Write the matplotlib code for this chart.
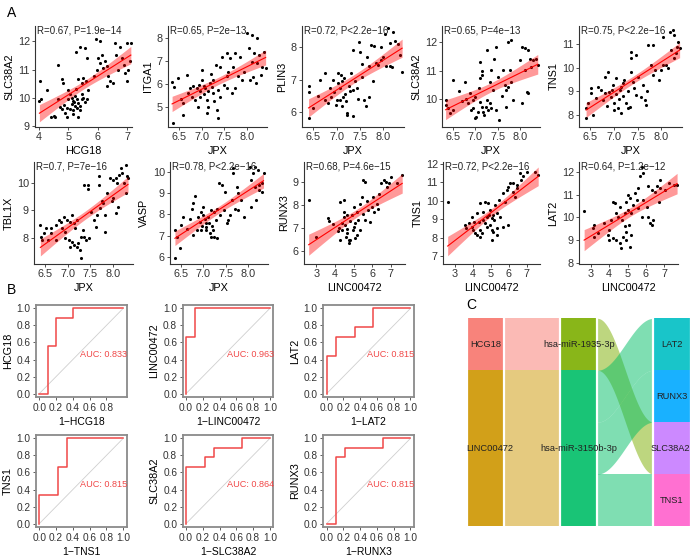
import numpy as np
import matplotlib
matplotlib.use("Agg")
import matplotlib.pyplot as plt
from matplotlib.patches import Rectangle
from matplotlib.ticker import FormatStrFormatter

plt.rcParams['font.family'] = ['Liberation Sans', 'DejaVu Sans']

W, H = 691, 558

# ---------------- Panel A data (x, y) ----------------
hcg18_slc38a2 = [(4.03, 10.61), (4.06, 9.94), (4.01, 9.87), (4.26, 10.29), (4.40, 9.30), (4.51, 9.35),
                 (4.55, 9.33), (4.63, 11.16), (4.77, 10.65), (4.83, 10.53), (4.66, 9.94), (4.72, 9.68),
                 (4.77, 9.59), (4.89, 9.47), (4.94, 9.30), (5.00, 10.29), (5.06, 10.12), (5.11, 10.00),
                 (5.00, 9.94), (5.17, 9.88), (5.23, 9.70), (5.11, 9.76), (5.28, 9.65), (5.34, 9.82),
                 (5.40, 9.70), (5.45, 9.94), (5.51, 10.00), (5.26, 11.61), (5.40, 11.82), (5.57, 11.76),
                 (5.65, 11.41), (5.26, 10.30), (5.34, 10.65), (5.45, 10.53), (5.51, 10.70), (5.60, 10.59),
                 (5.65, 9.94), (5.68, 10.29), (5.34, 9.30), (5.17, 9.41), (5.95, 12.08), (6.08, 12.00),
                 (6.02, 11.41), (6.14, 11.53), (5.86, 10.76), (5.97, 11.00), (6.08, 11.24), (6.19, 11.06),
                 (6.25, 11.30), (6.30, 11.12), (6.30, 10.41), (6.42, 10.59), (6.53, 10.53), (6.36, 10.76),
                 (6.59, 11.94), (6.76, 11.82), (6.64, 11.53), (6.82, 11.41), (6.70, 11.00), (6.88, 11.18),
                 (6.93, 10.88), (6.99, 10.59), (7.05, 11.00), (7.01, 11.96), (7.13, 11.96), (7.10, 11.30),
                 (5.05, 9.60), (5.15, 9.55), (5.20, 9.85), (5.30, 9.95), (5.38, 9.55), (5.22, 10.05),
                 (4.85, 9.75), (4.95, 9.62), (5.48, 10.15), (5.58, 9.85)]

jpx_itga1 = [(6.36, 4.34), (6.35, 6.10), (6.39, 5.86), (6.49, 6.25), (6.58, 4.67), (6.67, 6.39), (6.71, 5.60),
             (6.78, 5.46), (6.74, 5.82), (6.85, 5.32), (6.89, 5.82), (6.97, 5.68), (6.93, 5.03), (7.00, 6.60),
             (7.00, 6.18), (7.06, 5.92), (7.08, 5.82), (7.11, 5.32), (7.15, 5.03), (7.19, 6.03), (7.22, 5.89),
             (7.26, 6.18), (7.28, 5.25), (7.33, 4.89), (7.37, 4.53), (7.32, 6.82), (7.41, 6.75), (7.45, 7.18),
             (7.56, 7.33), (7.63, 7.11), (7.70, 6.75), (7.59, 6.54), (7.56, 5.82), (7.67, 5.60), (7.41, 5.46),
             (7.74, 5.82), (7.74, 7.33), (7.85, 7.18), (7.93, 6.54), (7.89, 6.18), (8.00, 8.19), (8.11, 8.11),
             (8.22, 7.97), (8.04, 7.54), (8.15, 7.33), (8.26, 7.25), (8.37, 7.40), (8.11, 6.97), (8.22, 6.90),
             (8.33, 6.75), (8.41, 6.68), (8.06, 6.18), (8.19, 6.03), (8.14, 6.30), (7.11, 4.75), (6.97, 5.46),
             (7.05, 5.55), (7.15, 5.70), (6.95, 5.95), (7.25, 5.60), (6.80, 5.90), (7.35, 5.75), (7.50, 5.95),
             (7.55, 6.35), (7.20, 6.45), (6.60, 5.20), (6.55, 5.35), (7.80, 6.35), (8.30, 6.40)]

jpx_plin3 = [(6.40, 6.62), (6.41, 6.80), (6.42, 5.80), (6.50, 6.10), (6.64, 7.00), (6.75, 7.20), (6.75, 6.37),
             (6.82, 6.28), (6.86, 6.75), (6.93, 7.00), (7.04, 7.20), (7.08, 6.75), (7.15, 7.06), (7.19, 6.32),
             (7.23, 5.90), (7.00, 6.37), (7.12, 6.94), (7.08, 6.37), (7.14, 6.47), (7.12, 6.16), (7.23, 5.95),
             (7.34, 5.85), (7.26, 6.79), (7.29, 6.63), (7.36, 6.68), (7.44, 6.73), (7.40, 6.95), (7.36, 7.93),
             (7.50, 7.87), (7.47, 8.18), (7.54, 7.09), (7.58, 6.37), (7.62, 6.16), (7.69, 6.45), (7.77, 6.94),
             (7.69, 7.41), (7.73, 8.09), (7.80, 8.04), (7.84, 7.51), (7.88, 7.45), (7.95, 7.62), (8.06, 7.41),
             (8.14, 7.41), (8.03, 8.41), (8.10, 8.62), (8.21, 8.47), (8.25, 8.20), (8.32, 8.10), (8.36, 7.77),
             (8.40, 7.25), (8.14, 8.15), (8.18, 7.40), (6.95, 6.60), (7.02, 6.90), (7.10, 7.15), (6.88, 6.45),
             (6.98, 6.20), (7.18, 6.55), (6.60, 6.50), (7.30, 7.20), (7.45, 6.40), (7.55, 7.50), (7.65, 7.70),
             (7.95, 8.00), (8.00, 7.70)]

jpx_slc38a2 = [(6.36, 9.98), (6.34, 9.80), (6.40, 9.69), (6.43, 9.51), (6.51, 9.63), (6.51, 10.67), (6.64, 10.30),
               (6.77, 10.61), (6.80, 10.03), (6.84, 9.86), (6.88, 10.21), (6.94, 9.98), (6.99, 10.09), (6.91, 9.63),
               (6.99, 9.34), (7.02, 9.40), (7.09, 10.38), (7.10, 10.73), (7.10, 11.31), (7.14, 11.00), (7.16, 10.85),
               (7.14, 9.75), (7.17, 9.57), (7.23, 9.75), (7.25, 9.98), (7.29, 9.63), (7.32, 9.86), (7.25, 11.71),
               (7.32, 10.61), (7.36, 11.02), (7.41, 11.42), (7.46, 11.83), (7.40, 10.32), (7.51, 10.79), (7.53, 9.28),
               (7.47, 9.63), (7.62, 11.02), (7.66, 10.50), (7.69, 10.32), (7.73, 10.42), (7.73, 12.00), (7.80, 12.06),
               (7.77, 11.02), (7.84, 9.98), (7.69, 9.75), (7.99, 11.36), (8.03, 11.83), (8.10, 11.77), (8.17, 11.71),
               (8.21, 11.42), (8.10, 11.02), (8.14, 10.27), (8.17, 10.21), (8.03, 9.86), (8.24, 11.13), (8.36, 11.42),
               (8.39, 11.19), (8.28, 11.36), (7.05, 9.55), (7.20, 9.45), (7.10, 9.90), (6.95, 9.70), (7.35, 9.70),
               (7.60, 10.10), (7.80, 10.60), (6.70, 9.95)]

jpx_tns1 = [(6.41, 8.28), (6.41, 7.86), (6.44, 8.50), (6.55, 8.00), (6.51, 9.13), (6.51, 8.92), (6.62, 8.71),
            (6.67, 9.20), (6.73, 9.06), (6.80, 8.92), (6.76, 8.64), (6.80, 9.63), (6.87, 9.84), (6.90, 8.99),
            (6.94, 8.78), (6.97, 9.27), (7.01, 8.50), (7.08, 8.28), (7.12, 9.06), (7.15, 9.20), (7.19, 9.34),
            (7.04, 9.56), (7.22, 9.49), (7.26, 8.50), (7.29, 8.28), (7.33, 8.36), (7.36, 9.84), (7.40, 9.42),
            (7.43, 9.13), (7.47, 8.85), (7.36, 10.41), (7.47, 10.55), (7.36, 10.69), (7.61, 9.27), (7.58, 8.78),
            (7.65, 8.64), (7.68, 8.43), (7.72, 10.97), (7.82, 10.97), (7.79, 10.12), (7.86, 9.91), (7.82, 9.70),
            (7.96, 9.49), (7.99, 9.91), (8.04, 10.12), (8.11, 10.12), (8.04, 11.33), (8.18, 11.54), (8.25, 11.61),
            (8.28, 11.40), (8.35, 11.11), (8.21, 10.76), (8.28, 10.41), (8.39, 10.83), (8.34, 10.90), (8.14, 9.98),
            (8.31, 10.62), (7.05, 8.90), (7.10, 8.70), (6.95, 9.05), (7.20, 8.80), (7.30, 9.00), (7.00, 8.20),
            (7.15, 8.10), (6.85, 8.40), (7.50, 9.60), (7.70, 9.00)]

jpx_tbl1x = [(6.40, 8.47), (6.42, 8.04), (6.43, 7.91), (6.47, 8.16), (6.53, 8.34), (6.57, 7.91), (6.64, 8.34),
             (6.64, 8.16), (6.74, 8.47), (6.74, 7.91), (6.81, 8.65), (6.85, 8.59), (6.88, 8.34), (6.92, 8.77),
             (6.99, 8.65), (6.95, 8.22), (6.95, 7.98), (7.02, 7.91), (7.09, 7.85), (7.06, 7.67), (7.13, 7.73),
             (7.06, 8.59), (7.13, 8.53), (7.09, 8.83), (7.20, 8.65), (7.16, 8.34), (7.20, 7.67), (7.23, 7.79),
             (7.27, 7.55), (7.30, 7.24), (7.30, 8.04), (7.37, 8.04), (7.41, 7.91), (7.48, 7.98), (7.34, 8.28),
             (7.37, 9.94), (7.46, 9.94), (7.44, 9.78), (7.51, 8.96), (7.58, 8.65), (7.62, 8.40), (7.65, 8.83),
             (7.69, 10.25), (7.69, 9.94), (7.72, 9.08), (7.76, 9.33), (7.79, 9.27), (7.83, 8.83), (7.83, 8.22),
             (7.86, 9.63), (7.93, 10.18), (8.00, 10.12), (8.07, 10.18), (7.97, 9.33), (8.00, 9.45), (8.07, 8.90),
             (8.11, 9.14), (8.09, 10.00), (8.14, 10.31), (8.17, 10.55), (8.28, 10.67), (8.20, 10.37), (8.24, 10.00),
             (8.31, 10.25), (8.28, 9.63), (8.33, 10.20)]

jpx_vasp = [(6.38, 7.25), (6.37, 5.92), (6.42, 6.94), (6.49, 6.39), (6.50, 7.49), (6.54, 7.88), (6.64, 7.33),
            (6.70, 7.76), (6.75, 8.27), (6.78, 8.51), (6.78, 7.02), (6.85, 7.25), (6.82, 8.85), (6.89, 7.88),
            (6.92, 7.65), (6.96, 7.25), (6.96, 8.12), (7.00, 7.96), (7.03, 7.76), (7.07, 7.57), (7.10, 7.88),
            (7.07, 7.25), (7.14, 7.10), (7.17, 6.94), (7.24, 6.94), (7.21, 7.25), (7.17, 8.20), (7.24, 8.12),
            (7.28, 7.73), (7.31, 8.27), (7.35, 9.48), (7.42, 9.37), (7.46, 8.20), (7.49, 9.06), (7.53, 7.57),
            (7.56, 7.73), (7.60, 7.96), (7.63, 8.67), (7.67, 10.16), (7.67, 9.92), (7.74, 9.29), (7.77, 8.98),
            (7.70, 8.27), (7.77, 8.20), (7.84, 8.67), (7.91, 7.88), (8.03, 10.24), (8.14, 10.24), (8.21, 10.08),
            (8.10, 9.92), (8.06, 9.61), (8.14, 9.29), (8.24, 9.14), (8.25, 9.37), (8.31, 9.45), (8.17, 8.67),
            (8.06, 8.35), (8.30, 9.06), (8.34, 9.92), (7.05, 7.40), (7.12, 7.60), (6.98, 7.45), (7.20, 7.45),
            (7.30, 6.90), (7.38, 7.95), (7.00, 8.35)]

linc_runx3 = [(2.60, 8.22), (3.00, 6.60), (3.62, 7.45), (3.70, 7.30), (3.88, 7.17), (4.21, 7.00), (4.30, 8.15),
              (4.47, 8.22), (4.47, 7.71), (4.65, 7.56), (4.65, 6.97), (4.74, 6.46), (4.30, 6.47), (4.39, 7.20),
              (4.47, 7.49), (4.65, 6.76), (4.74, 6.32), (4.82, 6.47), (4.91, 7.56), (5.00, 7.05), (5.04, 7.93),
              (5.18, 7.71), (5.26, 7.34), (5.35, 8.07), (5.44, 8.36), (5.53, 9.09), (5.61, 9.02), (5.35, 6.91),
              (5.61, 7.34), (5.79, 7.78), (5.96, 7.93), (5.88, 7.27), (6.05, 8.36), (6.23, 8.07), (6.32, 7.85),
              (6.37, 8.50), (6.46, 8.95), (6.63, 9.09), (6.72, 9.02), (6.90, 8.95), (6.99, 9.24), (7.34, 8.95),
              (7.60, 9.31), (6.81, 8.80), (4.56, 7.12), (5.09, 7.20), (4.15, 6.85), (4.80, 7.30), (5.20, 6.70),
              (4.95, 6.90), (5.50, 7.60), (5.70, 8.20), (6.10, 7.70), (4.60, 6.60), (4.40, 6.90), (5.10, 6.55)]

linc_tns1 = [(2.61, 9.92), (3.59, 8.68), (3.65, 8.50), (3.77, 8.78), (3.96, 8.60), (4.01, 8.41), (3.96, 9.14),
             (4.05, 8.87), (4.24, 9.32), (4.33, 8.87), (4.42, 8.41), (4.14, 8.23), (4.24, 8.14), (4.42, 8.05),
             (4.51, 8.23), (4.42, 9.86), (4.60, 9.41), (4.60, 8.96), (4.79, 9.14), (4.79, 8.60), (4.70, 9.95),
             (4.88, 9.86), (4.97, 9.50), (5.06, 9.05), (4.97, 8.68), (5.06, 8.41), (5.16, 8.32), (5.06, 7.87),
             (5.34, 8.50), (5.34, 8.14), (5.25, 9.77), (5.34, 9.32), (5.53, 9.14), (5.44, 10.04), (5.71, 10.41),
             (5.80, 9.95), (5.89, 10.59), (5.99, 10.77), (5.99, 8.68), (5.71, 8.60), (6.08, 10.95), (6.26, 10.95),
             (6.45, 10.86), (6.35, 10.22), (6.63, 11.49), (6.72, 11.13), (6.82, 11.35), (7.00, 11.58), (7.46, 11.58),
             (7.65, 11.40), (6.26, 10.50), (6.45, 10.68), (5.15, 9.20), (4.90, 9.25), (5.20, 8.95), (4.70, 8.80)]

linc_lat2 = [(2.63, 10.29), (3.09, 9.52), (3.18, 9.67), (3.37, 9.30), (3.18, 9.15), (3.74, 9.74), (3.92, 9.22),
             (4.01, 9.00), (4.01, 9.45), (4.11, 9.89), (4.20, 10.70), (4.29, 10.63), (4.38, 10.18), (4.47, 10.04),
             (4.20, 9.08), (4.38, 9.00), (4.57, 8.86), (4.66, 8.63), (4.75, 9.15), (4.57, 10.48), (4.71, 9.89),
             (4.84, 9.60), (4.90, 9.37), (4.94, 10.70), (5.03, 11.00), (5.12, 10.85), (5.03, 10.33), (4.94, 9.00),
             (5.12, 8.71), (5.21, 9.22), (5.08, 9.67), (5.30, 10.55), (5.40, 11.07), (5.49, 10.77), (5.58, 10.41),
             (5.58, 11.29), (5.67, 11.81), (5.76, 12.25), (5.86, 11.96), (5.86, 10.77), (6.04, 10.48), (6.13, 10.04),
             (6.23, 9.74), (6.13, 11.37), (6.32, 11.22), (6.50, 11.14), (6.59, 11.37), (6.41, 9.89), (6.32, 9.67),
             (5.76, 10.04), (6.78, 11.66), (6.78, 11.29), (7.06, 11.22), (6.74, 10.70), (7.24, 11.51), (7.52, 11.44),
             (7.70, 11.44), (5.20, 10.20), (4.85, 10.20)]

cor_labels = ['R=0.67, P=1.9e\u221214', 'R=0.65, P=2e\u221213', 'R=0.72, P<2.2e\u221216',
              'R=0.65, P=4e\u221213', 'R=0.75, P<2.2e\u221216', 'R=0.7, P=7e\u221216',
              'R=0.78, P<2.2e\u221216', 'R=0.68, P=4.6e\u221215', 'R=0.72, P<2.2e\u221216',
              'R=0.64, P=1.2e\u221212']

# ---------------- Panel B data (ROC curves) ----------------
roc_genes = ['HCG18', 'LINC00472', 'LAT2', 'TNS1', 'SLC38A2', 'RUNX3']
roc_fpr = [[0, 0.1, 0.1, 0.2, 0.2, 0.4, 0.4, 1],
           [0, 0, 0.111, 0.111, 1],
           [0, 0, 0.111, 0.111, 0.333, 0.333, 0.556, 0.556, 1],
           [0, 0, 0.222, 0.222, 0.333, 0.333, 1],
           [0, 0, 0.222, 0.222, 0.333, 0.333, 0.667, 0.667, 1],
           [0, 0.111, 0.111, 0.222, 0.222, 0.667, 0.667, 1]]
roc_tpr = [[0, 0, 0.556, 0.556, 0.889, 0.889, 1, 1],
           [0, 0.667, 0.667, 1, 1],
           [0, 0.444, 0.444, 0.667, 0.667, 0.778, 0.778, 1, 1],
           [0, 0.333, 0.333, 0.667, 0.667, 1, 1],
           [0, 0.667, 0.667, 0.778, 0.778, 0.889, 0.889, 1, 1],
           [0, 0, 0.778, 0.778, 0.889, 0.889, 1, 1]]
roc_auc = [0.833, 0.963, 0.815, 0.815, 0.864, 0.815]

# ---------------- Panel C data (alluvial) ----------------
lnc_levels = ['HCG18', 'LINC00472']
mirna_levels = ['hsa-miR-1935-3p', 'hsa-miR-3150b-3p']
mrna_levels = ['LAT2', 'RUNX3', 'SLC38A2', 'TNS1']
rows_lnc = ['HCG18', 'LINC00472', 'LINC00472', 'LINC00472']
rows_mirna = ['hsa-miR-1935-3p', 'hsa-miR-3150b-3p', 'hsa-miR-3150b-3p', 'hsa-miR-3150b-3p']
rows_mrna = ['SLC38A2', 'LAT2', 'RUNX3', 'TNS1']
hue8 = ['#F8766D', '#CD9600', '#7CAE00', '#00BE67', '#00BFC4', '#00A9FF', '#C77CFF', '#FF61CC']


fig = plt.figure(figsize=(W / 100, H / 100), dpi=100)


def px_axes(left, top, right, bottom):
    return fig.add_axes([left / W, 1 - bottom / H, (right - left) / W, (bottom - top) / H])


# ---------------- A ----------------
jpx_lim = (6.26, 8.44)
linc_lim = (2.35, 7.75)
jpx_ticks = [6.5, 7.0, 7.5, 8.0]
linc_ticks = [3, 4, 5, 6, 7]
panels_a = [
    (35, 26, 132, 127, hcg18_slc38a2, 'HCG18', 'SLC38A2', (3.86, 7.17), (8.96, 12.55), [4, 5, 6, 7], [9, 10, 11, 12]),
    (168, 26, 267, 127, jpx_itga1, 'JPX', 'ITGA1', jpx_lim, (4.15, 8.5), jpx_ticks, [5, 6, 7, 8]),
    (302, 26, 404, 127, jpx_plin3, 'JPX', 'PLIN3', jpx_lim, (5.52, 8.67), jpx_ticks, [6, 7, 8]),
    (442, 26, 540, 127, jpx_slc38a2, 'JPX', 'SLC38A2', jpx_lim, (9.04, 12.55), jpx_ticks, [10, 11, 12]),
    (579, 26, 682, 127, jpx_tns1, 'JPX', 'TNS1', jpx_lim, (7.49, 11.78), jpx_ticks, [8, 9, 10, 11]),
    (34, 162, 133, 264, jpx_tbl1x, 'JPX', 'TBL1X', jpx_lim, (7.03, 10.78), jpx_ticks, [8, 9, 10]),
    (170, 162, 268, 264, jpx_vasp, 'JPX', 'VASP', jpx_lim, (5.66, 10.46), jpx_ticks, [6, 7, 8, 9, 10]),
    (304, 162, 405, 264, linc_runx3, 'LINC00472', 'RUNX3', linc_lim, (5.42, 9.89), linc_ticks, [6, 7, 8, 9]),
    (443, 162, 540, 264, linc_tns1, 'LINC00472', 'TNS1', linc_lim, (6.57, 12.1), linc_ticks, [7, 8, 9, 10, 11, 12]),
    (579, 162, 678, 264, linc_lat2, 'LINC00472', 'LAT2', linc_lim, (7.94, 12.45), linc_ticks, [8, 9, 10, 11, 12]),
]

for (l, t, r, b, pts, xlab, ylab, xlim, ylim, xt, yt), lab in zip(panels_a, cor_labels):
    ax = px_axes(l, t, r, b)
    x, y = np.array(pts).T
    ax.scatter(x, y, s=5, c='black', linewidths=0, zorder=2)
    # linear fit with 95% confidence band (as geom_smooth(method = "lm"))
    slope, icpt = np.polyfit(x, y, 1)
    xs = np.linspace(x.min(), x.max(), 100)
    fit = icpt + slope * xs
    n = len(x)
    s = np.sqrt(np.sum((y - (icpt + slope * x)) ** 2) / (n - 2))
    se = s * np.sqrt(1 / n + (xs - x.mean()) ** 2 / np.sum((x - x.mean()) ** 2))
    ax.fill_between(xs, fit - 1.99 * se, fit + 1.99 * se, color='#FF0000', alpha=0.4, linewidth=0, zorder=3)
    ax.plot(xs, fit, color='#FF0000', lw=0.8, zorder=4)
    ax.set_xlim(xlim)
    ax.set_ylim(ylim)
    ax.set_xticks(xt)
    ax.set_yticks(yt)
    if xlab == 'JPX':
        ax.xaxis.set_major_formatter(FormatStrFormatter('%.1f'))
    for sp in ['top', 'right']:
        ax.spines[sp].set_visible(False)
    for sp in ['left', 'bottom']:
        ax.spines[sp].set_color('#333333')
        ax.spines[sp].set_linewidth(0.8)
    ax.tick_params(length=2.2, width=0.6, color='#333333', labelsize=7.8, labelcolor='#333333', pad=1.5)
    ax.set_xlabel(xlab, fontsize=7.8, labelpad=3)
    ax.set_ylabel(ylab, fontsize=7.8, labelpad=2.5)
    ax.text(0.02, 0.955, lab, transform=ax.transAxes, fontsize=7, ha='left', va='center',
            color='#222222', zorder=5)

# ---------------- B ----------------
roc_boxes = [(36, 305), (182.7, 305), (323.3, 305), (36, 435), (182.7, 435), (323.3, 435)]
for i, ((l, t), gene, fpr, tpr, auc) in enumerate(zip(roc_boxes, roc_genes, roc_fpr, roc_tpr, roc_auc)):
    ax = px_axes(l, t, l + 90.5, t + 92)
    ax.plot([0, 1], [0, 1], color='#cfcfcf', lw=0.6)
    ax.plot(fpr, tpr, color='#F04848', lw=1.1)
    ax.text(0.765, 0.455, f'AUC: {auc:.3f}', color='#F04848', fontsize=6.6, ha='center', va='center')
    ax.set_xlim(-0.04, 1.04)
    ax.set_ylim(-0.04, 1.04)
    ax.set_xticks(np.arange(0, 0.81, 0.2) if i == 0 else np.arange(0, 1.01, 0.2))
    ax.set_yticks(np.arange(0, 1.01, 0.2))
    ax.xaxis.set_major_formatter(FormatStrFormatter('%.1f'))
    ax.yaxis.set_major_formatter(FormatStrFormatter('%.1f'))
    for sp in ax.spines.values():
        sp.set_color('#8a8a8a')
        sp.set_linewidth(1.3)
    ax.tick_params(length=2.5, width=0.6, color='#444444', labelsize=7.3, labelcolor='#333333', pad=1.5)
    ax.set_xlabel('1\u2212' + gene, fontsize=7.5, labelpad=3)
    ax.set_ylabel(gene, fontsize=7.8, labelpad=2.5)

# ---------------- C ----------------
axc = px_axes(466.7, 318.3, 690.7, 526)
axc.set_xlim(0.8, 3.2)
axc.set_ylim(0, len(rows_lnc))
axc.axis('off')

cols = [(rows_lnc, lnc_levels, hue8[0:2]), (rows_mirna, mirna_levels, hue8[2:4]), (rows_mrna, mrna_levels, hue8[4:8])]
n_rows = len(rows_lnc)
halfw = 0.2

# lode ranks in each column (sorted by own stratum, then neighbouring strata)
keys = [
    [(lnc_levels.index(rows_lnc[k]), mirna_levels.index(rows_mirna[k]), mrna_levels.index(rows_mrna[k])) for k in range(n_rows)],
    [(mirna_levels.index(rows_mirna[k]), mrna_levels.index(rows_mrna[k]), lnc_levels.index(rows_lnc[k])) for k in range(n_rows)],
    [(mrna_levels.index(rows_mrna[k]), mirna_levels.index(rows_mirna[k]), lnc_levels.index(rows_lnc[k])) for k in range(n_rows)],
]
lode_top = []
for kk in keys:
    order = sorted(range(n_rows), key=lambda k: kk[k])
    tops = [0] * n_rows
    for rank, k in enumerate(order):
        tops[k] = n_rows - rank
    lode_top.append(tops)

tt = np.linspace(0, 1, 120)
ease = (1 - np.cos(np.pi * tt)) / 2
for c in range(2):
    rows, levels, colors = cols[c]
    x0, x1 = c + 1 + halfw, c + 2 - halfw
    xs = x0 + (x1 - x0) * tt
    for k in range(n_rows):
        ya, yb = lode_top[c][k], lode_top[c + 1][k]
        upper = ya + (yb - ya) * ease
        axc.fill_between(xs, upper - 1, upper, color=colors[levels.index(rows[k])], alpha=0.5,
                         linewidth=0)

text_pos = {'LINC00472': ('left', 0.8), 'SLC38A2': ('right', 3.195)}
for c, (rows, levels, colors) in enumerate(cols):
    xc = c + 1
    top = n_rows
    for lev, col in zip(levels, colors):
        cnt = rows.count(lev)
        axc.add_patch(Rectangle((xc - halfw, top - cnt), 2 * halfw, cnt, facecolor=col, alpha=0.9,
                                edgecolor='none'))
        ha, tx = text_pos.get(lev, ('center', xc))
        axc.text(tx, top - cnt / 2, lev, fontsize=6.7, ha=ha, va='center', color='#222222', zorder=5)
        top -= cnt
    for xe in (xc - halfw, xc + halfw):
        axc.axvline(xe, color='white', lw=1.6, zorder=4)

# panel letters
fig.text(7 / W, 1 - 13 / H, 'A', fontsize=10, ha='left', va='center')
fig.text(7 / W, 1 - 290 / H, 'B', fontsize=10, ha='left', va='center')
fig.text(466 / W, 1 - 305 / H, 'C', fontsize=10, ha='left', va='center')

fig.savefig('out.png', dpi=100)
